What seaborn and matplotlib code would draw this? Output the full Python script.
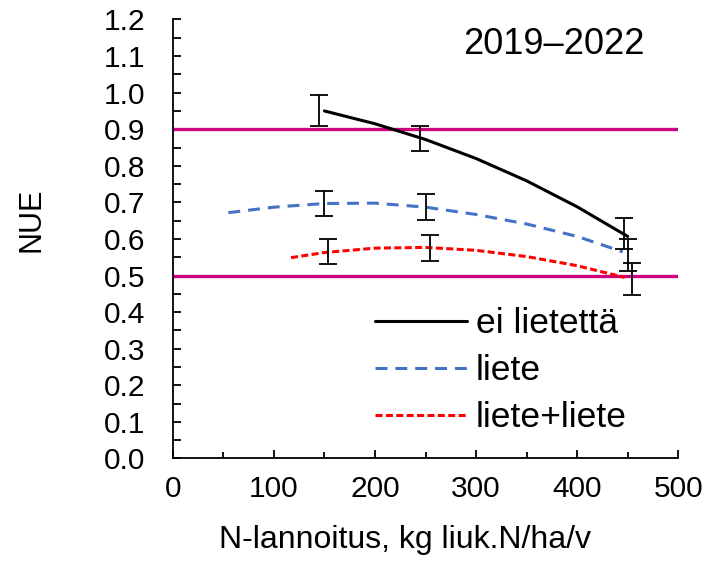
import numpy as np
import pandas as pd
import matplotlib
matplotlib.use("Agg")
import matplotlib.pyplot as plt
from matplotlib.ticker import MultipleLocator, FormatStrFormatter
import seaborn as sns

# -------------------------
# Data
# -------------------------
series_names = ["ei lietettä", "liete", "liete+liete"]

# trend curves
curve_x_ei = [150, 200, 250, 300, 350, 400, 450]
curve_y_ei = [0.950, 0.915, 0.872, 0.820, 0.759, 0.688, 0.607]

curve_x_liete = [55, 100, 150, 200, 250, 300, 350, 400, 445]
curve_y_liete = [0.672, 0.687, 0.697, 0.698, 0.687, 0.667, 0.641, 0.607, 0.565]

curve_x_ll = [117, 150, 200, 250, 300, 350, 400, 447]
curve_y_ll = [0.549, 0.563, 0.575, 0.577, 0.569, 0.552, 0.527, 0.495]

# measured means with error bars
pts_x_ei = [145, 245, 446]
pts_y_ei = [0.951, 0.875, 0.616]
pts_e_ei = [0.042, 0.035, 0.042]

pts_x_liete = [150, 250, 450]
pts_y_liete = [0.697, 0.687, 0.557]
pts_e_liete = [0.035, 0.035, 0.044]

pts_x_ll = [154, 254, 454]
pts_y_ll = [0.566, 0.575, 0.491]
pts_e_ll = [0.035, 0.035, 0.044]

limits = [0.9, 0.5]

# -------------------------
# Style
# -------------------------
sns.set_theme(style="white")
plt.rcParams["font.family"] = ["Liberation Sans", "DejaVu Sans"]
plt.rcParams["text.color"] = "black"
plt.rcParams["axes.labelcolor"] = "black"
plt.rcParams["xtick.color"] = "black"
plt.rcParams["ytick.color"] = "black"

fig = plt.figure(figsize=(7.08, 5.65), dpi=100)
ax = fig.add_axes([0.244, 0.1885, 0.714, 0.777])

# -------------------------
# Reference lines
# -------------------------
for lim in limits:
    ax.axhline(lim, color="#CC0480", linewidth=2.4, zorder=1)

# -------------------------
# Curves
# -------------------------
sns.lineplot(x=curve_x_ei, y=curve_y_ei, ax=ax, color="black",
             linewidth=2.2, label=series_names[0], zorder=3)
sns.lineplot(x=curve_x_liete, y=curve_y_liete, ax=ax, color="#4472C4",
             linewidth=2.2, linestyle=(0, (3.9, 2.6)), label=series_names[1], zorder=3)
sns.lineplot(x=curve_x_ll, y=curve_y_ll, ax=ax, color="#FF0000",
             linewidth=2.2, linestyle=(0, (2.3, 1.1)), label=series_names[2], zorder=3)

# -------------------------
# Error bars
# -------------------------
for px, py, pe in [(pts_x_ei, pts_y_ei, pts_e_ei),
                   (pts_x_liete, pts_y_liete, pts_e_liete),
                   (pts_x_ll, pts_y_ll, pts_e_ll)]:
    ax.errorbar(px, py, yerr=pe, fmt="none", ecolor="black",
                elinewidth=1.3, capsize=6.5, capthick=1.3, zorder=4)

# -------------------------
# Axes
# -------------------------
ax.set_xlim(0, 500)
ax.set_ylim(0, 1.2)
ax.xaxis.set_major_locator(MultipleLocator(100))
ax.xaxis.set_minor_locator(MultipleLocator(50))
ax.yaxis.set_major_locator(MultipleLocator(0.1))
ax.yaxis.set_minor_locator(MultipleLocator(0.05))
ax.yaxis.set_major_formatter(FormatStrFormatter("%.1f"))

ax.tick_params(axis="x", which="major", direction="in", length=6, width=1.3,
               labelsize=21.5, pad=12, bottom=True)
ax.tick_params(axis="x", which="minor", direction="in", length=4, width=1.3,
               bottom=True)
ax.tick_params(axis="y", which="both", direction="in", length=6, width=1.3,
               labelsize=21.5, pad=20, left=True)

for side in ["top", "right"]:
    ax.spines[side].set_visible(False)
for side in ["left", "bottom"]:
    ax.spines[side].set_color("black")
    ax.spines[side].set_linewidth(1.3)

ax.set_xlabel("N-lannoitus, kg liuk.N/ha/v", fontsize=23)
ax.set_ylabel("NUE", fontsize=22)
ax.xaxis.set_label_coords(0.459, -0.152)
ax.yaxis.set_label_coords(-0.25, 0.544)

ax.text(0.754, 0.942, "2019–2022", transform=ax.transAxes,
        fontsize=26, ha="center", va="center")

ax.legend(loc="upper left", bbox_to_anchor=(0.40, 0.345), frameon=False,
          fontsize=25.5, handlelength=2.6, handletextpad=0.25,
          labelspacing=0.4, borderpad=0, borderaxespad=0)

plt.savefig("out.png", dpi=100)
